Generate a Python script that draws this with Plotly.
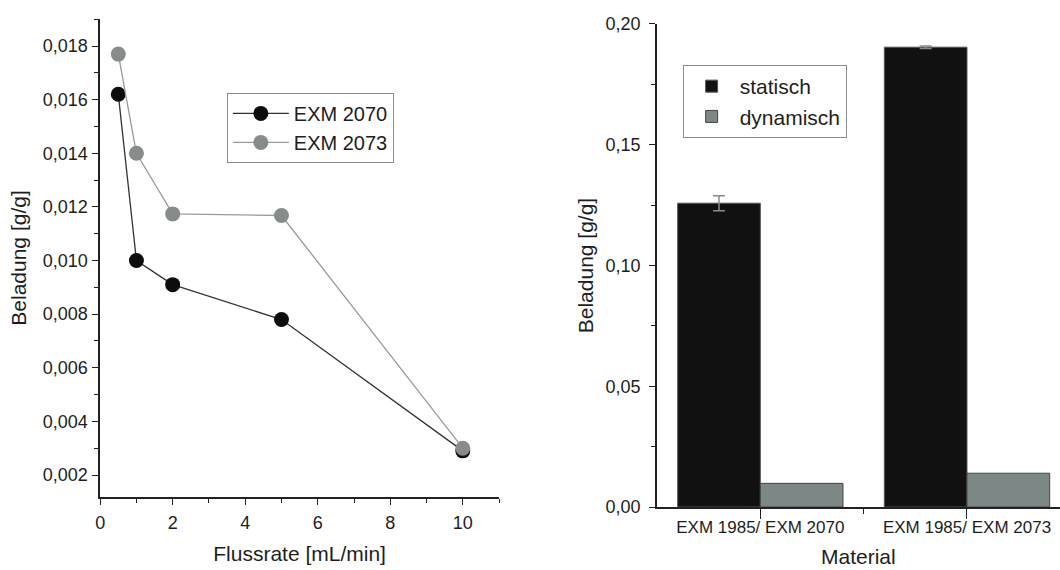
import plotly.graph_objects as go

# Left panel: loading vs. flow rate
flow = [0.5, 1, 2, 5, 10]
exm2070 = [0.0162, 0.0100, 0.0091, 0.0078, 0.0029]
exm2073 = [0.0177, 0.0140, 0.01174, 0.01168, 0.0030]

# Right panel: static vs. dynamic loading per material pair
materials = ["EXM 1985/ EXM 2070", "EXM 1985/ EXM 2073"]
statisch = [0.1258, 0.1904]
statisch_err = [0.0031, 0.0005]
dynamisch = [0.0098, 0.0140]

FONT = "Liberation Sans, Arial, sans-serif"
TXT = "#1e1e1e"
AX = "#222222"

fig = go.Figure()

fig.add_trace(go.Scatter(
    x=flow, y=exm2070, name="EXM 2070", mode="lines+markers",
    line=dict(color="#333333", width=1.3),
    marker=dict(color="#0d0d0d", size=15),
    xaxis="x", yaxis="y", legend="legend",
))
fig.add_trace(go.Scatter(
    x=flow, y=exm2073, name="EXM 2073", mode="lines+markers",
    line=dict(color="#9a9a9a", width=1.3),
    marker=dict(color="#868c8c", size=15),
    xaxis="x", yaxis="y", legend="legend",
))

pos = list(range(len(materials)))
fig.add_trace(go.Bar(
    x=pos, y=statisch, name="statisch", width=0.4, offset=-0.4,
    marker=dict(color="#111111", line=dict(color="#555555", width=1)),
    error_y=dict(type="data", array=statisch_err, visible=True,
                 color="#8a8a8a", thickness=1.5, width=6),
    xaxis="x2", yaxis="y2", legend="legend2",
))
fig.add_trace(go.Bar(
    x=pos, y=dynamisch, name="dynamisch", width=0.4, offset=0,
    marker=dict(color="#7c8886", line=dict(color="#444444", width=1)),
    xaxis="x2", yaxis="y2", legend="legend2",
))


def axis_style(ticklen=6, standoff=6, size=18):
    return dict(
        showline=True, linecolor=AX, linewidth=1.5, mirror=False,
        ticks="outside", ticklen=ticklen, tickwidth=1.3, tickcolor=AX,
        showgrid=False, zeroline=False, automargin=False,
        ticklabelstandoff=standoff,
        tickfont=dict(family=FONT, size=size, color=TXT),
    )


title_font = dict(family=FONT, size=21, color=TXT)
x2_domain = [0.6198, 1.0]

fig.update_layout(
    width=1060, height=570,
    margin=dict(l=0, r=0, t=0, b=0, pad=0, autoexpand=False),
    paper_bgcolor="white", plot_bgcolor="white",
    separators=",.",
    font=dict(family=FONT, color=TXT),
    xaxis=dict(
        **axis_style(6, 3), domain=[0.0945, 0.4708], anchor="y",
        range=[0, 11], tick0=0, dtick=2,
        minor=dict(dtick=1, ticks="outside", ticklen=4, tickcolor=AX),
        title=dict(text="Flussrate [mL/min]", font=title_font, standoff=14),
    ),
    yaxis=dict(
        **axis_style(6, 1), domain=[0.1281, 0.9667], anchor="x",
        range=[0.00118, 0.01901], tick0=0, dtick=0.002, tickformat=".3f",
        minor=dict(dtick=0.001, ticks="outside", ticklen=4, tickcolor=AX),
        title=dict(text="Beladung [g/g]", font=title_font, standoff=10),
    ),
    xaxis2=dict(
        **axis_style(10, -6, 17), domain=x2_domain, anchor="y2",
        range=[-0.5, 1.45], tickvals=pos, ticktext=materials,
        minor=dict(tickvals=[0.5], ticks="outside", ticklen=5, tickcolor=AX),
    ),
    yaxis2=dict(
        **axis_style(6, 5), domain=[0.1105, 0.9579], anchor="x2",
        range=[0, 0.2], tick0=0, dtick=0.05, tickformat=".2f",
        minor=dict(dtick=0.025, ticks="outside", ticklen=4, tickcolor=AX),
        title=dict(text="Beladung [g/g]", font=title_font, standoff=6),
    ),
    legend=dict(
        x=0.214, y=0.837, xanchor="left", yanchor="top",
        bgcolor="white", bordercolor="#8c8c8c", borderwidth=1,
        font=dict(family=FONT, size=20, color=TXT),
        tracegroupgap=0, itemwidth=56,
    ),
    legend2=dict(
        x=0.644, y=0.886, xanchor="left", yanchor="top",
        bgcolor="white", bordercolor="#8c8c8c", borderwidth=1,
        font=dict(family=FONT, size=21, color=TXT),
        tracegroupgap=0, itemwidth=46,
    ),
    barmode="overlay",
)

# x-axis title of the bar panel, placed under the category labels
fig.add_annotation(
    text="Material", xref="paper", yref="paper",
    x=sum(x2_domain) / 2, y=0.0,
    xanchor="center", yanchor="bottom", yshift=0,
    showarrow=False, font=title_font,
)

fig.write_html("out.html")
